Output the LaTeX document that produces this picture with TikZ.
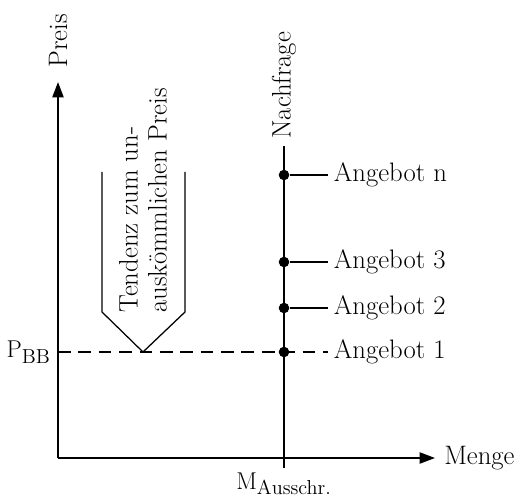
\documentclass[tikz,border=0pt]{standalone}
\usetikzlibrary{arrows.meta}
\begin{document}
\begin{tikzpicture}[>={Triangle[length=11pt,width=8pt]}, font=\fontsize{19}{20.6}\selectfont, line join=round]
	\def\xmax{9.425} \def\ymax{9.4} % Achsen
	\def\xm{5.65} \def\pbb{2.65}
	\tikzset{dot/.style={circle,fill,inner sep=0pt,minimum size=7.5pt},
		angebot/.style={anchor=west,inner sep=4pt}}
	\useasboundingbox (-1.45,-1.075) rectangle (11.625,11.45);
	
	\coordinate (O) at (0,0);
	\coordinate (X) at (\xmax,0);
	\coordinate (Y) at (0,\ymax);
	\draw[->,line width=1.2pt] (O)--(X) node[right,inner sep=6pt] (menge) {Menge};
	\draw[->,line width=1.2pt] (O)--(Y);
	\node[rotate=90,anchor=west,inner sep=0pt] (preis) at (0,9.75) {Preis};
	
	% Nachfrage
	\coordinate (N0) at (\xm,-0.25);
	\coordinate (N1) at (\xm,7.8);
	\draw[line width=1.8pt] (N0)--(N1);
	\node[rotate=90,anchor=west,inner sep=5pt] (nachfrage) at (N1) {Nachfrage};
	\node[below,inner sep=3pt] (mausschr) at (N0) {$\mathrm{M}_{\mathrm{Ausschr.}}$};
	
	% Angebote
	\node[dot] (d1) at (\xm,\pbb) {};
	\node[dot] (d2) at (\xm,3.75) {};
	\node[dot] (d3) at (\xm,4.9) {};
	\node[dot] (dn) at (\xm,7.075) {};
	\node[angebot] (a1) at (6.75,\pbb) {Angebot 1};
	\node[angebot] (a2) at (6.75,3.75) {Angebot 2};
	\node[angebot] (a3) at (6.75,4.9) {Angebot 3};
	\node[angebot] (an) at (6.75,7.075) {Angebot n};
	\draw[line width=0.9pt] (d2)--(a2.west);
	\draw[line width=0.9pt] (d3)--(a3.west);
	\draw[line width=0.9pt] (dn)--(an.west);
	
	% P_BB
	\coordinate (P) at (0,\pbb);
	\node[left,inner sep=5pt] (pbb) at (P) {$\mathrm{P}_{\mathrm{BB}}$};
	\draw[line width=0.9pt,dash pattern=on 9pt off 5.5pt] (P)--(a1.west);
	
	% Pfeil nach unten
	\draw[line width=0.9pt] (1.1,7.15)--(1.1,3.65)--(2.125,\pbb)--(3.175,3.65)--(3.175,7.15);
	\node[rotate=90,anchor=west,align=left,inner sep=0pt] (tendenz) at (2.125,3.625) {Tendenz zum un-\\auskömmlichen Preis};
\end{tikzpicture}
\end{document}
